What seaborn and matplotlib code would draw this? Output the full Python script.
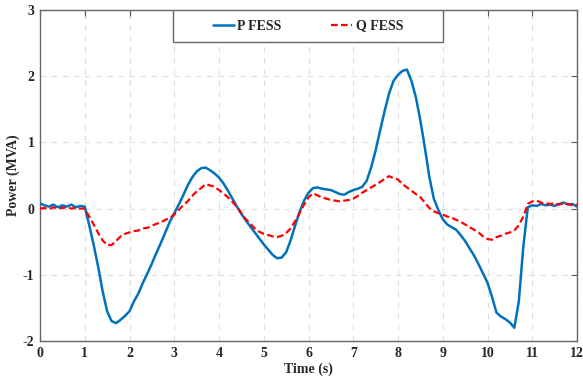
import numpy as np
import pandas as pd
import matplotlib
matplotlib.use("Agg")
import matplotlib.pyplot as plt
from matplotlib.patches import Rectangle
import seaborn as sns

# time axis (s), 0.1 s resolution
time_s = [round(0.1 * i, 1) for i in range(121)]

p_fess = [
    0.08, 0.05, 0.03, 0.06, 0.02, 0.05, 0.03, 0.06, 0.02, 0.04,
    0.03, -0.25, -0.55, -0.88, -1.25, -1.55, -1.70, -1.73, -1.68, -1.62,
    -1.55, -1.40, -1.28, -1.12, -0.98, -0.83, -0.67, -0.52, -0.36, -0.20,
    -0.07, 0.06, 0.20, 0.35, 0.47, 0.56, 0.61, 0.62, 0.58, 0.53,
    0.47, 0.38, 0.27, 0.15, 0.03, -0.08, -0.18, -0.27, -0.36, -0.45,
    -0.54, -0.62, -0.70, -0.75, -0.74, -0.66, -0.48, -0.26, -0.05, 0.12,
    0.24, 0.31, 0.32, 0.30, 0.29, 0.28, 0.25, 0.22, 0.21, 0.25,
    0.28, 0.30, 0.33, 0.42, 0.62, 0.88, 1.18, 1.47, 1.74, 1.93,
    2.02, 2.08, 2.10, 1.93, 1.68, 1.33, 0.92, 0.48, 0.15, -0.02,
    -0.16, -0.24, -0.28, -0.32, -0.40, -0.49, -0.60, -0.71, -0.84, -0.98,
    -1.12, -1.33, -1.57, -1.63, -1.67, -1.72, -1.80, -1.40, -0.58, 0.02,
    0.05, 0.04, 0.07, 0.05, 0.06, 0.04, 0.07, 0.09, 0.06, 0.07,
    0.03,
]

q_fess = [
    0.00, 0.01, -0.01, 0.02, 0.00, 0.01, 0.02, 0.00, 0.01, 0.00,
    0.00, -0.12, -0.24, -0.37, -0.48, -0.55, -0.55, -0.49, -0.42, -0.38,
    -0.36, -0.34, -0.33, -0.30, -0.29, -0.26, -0.23, -0.21, -0.17, -0.14,
    -0.09, -0.02, 0.05, 0.11, 0.19, 0.26, 0.31, 0.37, 0.35, 0.33,
    0.28, 0.23, 0.17, 0.10, 0.03, -0.07, -0.16, -0.23, -0.30, -0.35,
    -0.38, -0.40, -0.42, -0.43, -0.41, -0.37, -0.30, -0.19, -0.07, 0.06,
    0.17, 0.23, 0.20, 0.17, 0.15, 0.13, 0.12, 0.11, 0.12, 0.13,
    0.15, 0.19, 0.24, 0.28, 0.32, 0.36, 0.40, 0.45, 0.49, 0.46,
    0.44, 0.37, 0.32, 0.27, 0.22, 0.17, 0.09, 0.01, -0.04, -0.07,
    -0.09, -0.12, -0.14, -0.17, -0.20, -0.24, -0.28, -0.32, -0.36, -0.42,
    -0.46, -0.47, -0.43, -0.41, -0.38, -0.36, -0.33, -0.25, -0.12, 0.07,
    0.11, 0.12, 0.09, 0.08, 0.07, 0.08, 0.06, 0.08, 0.07, 0.05,
    0.06,
]

x_ticks = list(range(0, 13))
y_ticks = [-2, -1, 0, 1, 2, 3]
series_names = ["P FESS", "Q FESS"]

sns.set_style("white")
plt.rcParams["font.family"] = ["Liberation Serif", "DejaVu Serif"]
plt.rcParams["font.weight"] = "bold"

fig = plt.figure(figsize=(5.83, 3.81), dpi=100)
ax = fig.add_axes([40 / 583, 40 / 381, 537 / 583, 331 / 381])

df = pd.DataFrame({"t": time_s, "P": p_fess, "Q": q_fess})
sns.lineplot(data=df, x="t", y="P", ax=ax, color="#0072BD", linewidth=1.8,
             label=series_names[0], zorder=3)
sns.lineplot(data=df, x="t", y="Q", ax=ax, color="#FF0000", linewidth=1.6,
             label=series_names[1], zorder=4, dashes=False)
ax.lines[1].set_dashes([3, 1.5])

ax.set_xlim(0, 12)
ax.set_ylim(-2, 3)
ax.set_xticks(x_ticks)
ax.set_yticks(y_ticks)
ax.set_xticklabels([str(v) for v in x_ticks], fontsize=10, fontweight="bold")
ax.set_yticklabels([str(v) for v in y_ticks], fontsize=10, fontweight="bold")
ax.set_xlabel("Time (s)", fontsize=10, fontweight="bold", labelpad=2)
ax.set_ylabel("Power (MVA)", fontsize=10, fontweight="bold", labelpad=2)

ax.grid(True, color="#dddddd", linestyle=(0, (5, 5)), linewidth=0.8)
ax.set_axisbelow(True)
for s in ax.spines.values():
    s.set_color("#666666")
    s.set_linewidth(1.0)
ax.tick_params(direction="in", length=4, width=0.8, color="#555555",
               top=True, right=True, pad=4)

# legend box
rect = Rectangle((133 / 537, 1 - 32 / 331), 270 / 537, 32 / 331,
                 transform=ax.transAxes, facecolor="white",
                 edgecolor="#666666", linewidth=1.0, zorder=9)
ax.add_patch(rect)
leg = ax.legend(loc="center", bbox_to_anchor=(268 / 537, 1 - 16 / 331),
                ncol=2, frameon=False, prop={"weight": "bold", "size": 10},
                handlelength=1.5, handletextpad=0.25, columnspacing=3.6)
leg.set_zorder(10)

fig.savefig("out.png", dpi=100)
